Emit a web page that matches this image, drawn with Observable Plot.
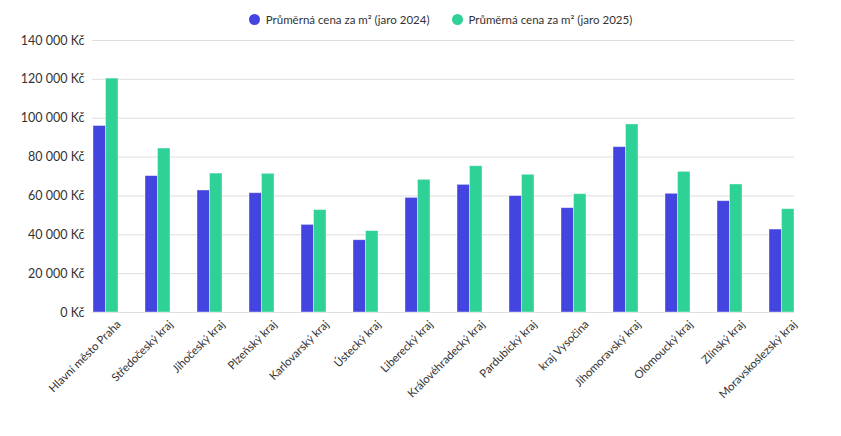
<!DOCTYPE html>
<html>
<head>
<meta charset="utf-8">
<script src="https://cdn.jsdelivr.net/npm/d3@7"></script>
<script src="https://cdn.jsdelivr.net/npm/@observablehq/plot@0.6"></script>
<style>
  body { margin: 0; background: #fff; font-family: Lato, "Open Sans", sans-serif; }
  #legend { height: 30px; display: flex; justify-content: center; align-items: flex-end; gap: 22px; font-size: 11.5px; color: #333; padding-left: 40px; box-sizing: border-box; padding-bottom: 4px; }
  #legend span.item { display: flex; align-items: center; gap: 6px; }
  #legend span.dot { width: 11px; height: 11px; border-radius: 50%; display: inline-block; }
</style>
</head>
<body>
<div id="legend"></div>
<div id="chart"></div>
<script>
const regions = ["Hlavní město Praha","Středočeský kraj","Jihočeský kraj","Plzeňský kraj","Karlovarský kraj","Ústecký kraj","Liberecký kraj","Královéhradecký kraj","Pardubický kraj","kraj Vysočina","Jihomoravský kraj","Olomoucký kraj","Zlínský kraj","Moravskoslezský kraj"];
const price2024 = [96000, 70200, 62800, 61400, 45100, 37200, 59000, 65700, 59900, 53700, 85100, 61100, 57300, 42700];
const price2025 = [120400, 84400, 71500, 71400, 52700, 41900, 68300, 75300, 70900, 60900, 96800, 72400, 65900, 53200];
const seriesNames = ["Průměrná cena za m² (jaro 2024)", "Průměrná cena za m² (jaro 2025)"];
const colors = ["#4444e0", "#2fd296"];
const yTicks = [0, 20000, 40000, 60000, 80000, 100000, 120000, 140000];

const legend = document.getElementById("legend");
seriesNames.forEach((n, i) => {
  const s = document.createElement("span");
  s.className = "item";
  s.innerHTML = `<span class="dot" style="background:${colors[i]}"></span>${n}`;
  legend.appendChild(s);
});

const data = regions.map((r, i) => ({region: r, v2024: price2024[i], v2025: price2025[i]}));
const fmt = v => d3.format(",")(v).replace(/,/g, " ") + " Kč";
const half = 12.5;

const chart = Plot.plot({
  width: 841,
  height: 406,
  marginTop: 10,
  marginBottom: 124,
  marginLeft: 92,
  marginRight: 47,
  style: {fontFamily: "Lato, 'Open Sans', sans-serif", color: "#333", background: "#fff"},
  x: {domain: regions, paddingInner: 0.52, paddingOuter: 0, label: null},
  y: {domain: [0, 140000], label: null},
  marks: [
    Plot.ruleY(yTicks, {stroke: "#dedede", strokeWidth: 1}),
    Plot.barY(data, {x: "region", y: "v2024", fill: colors[0], insetRight: half, stroke: "#fff", strokeOpacity: 0.5, strokeWidth: 0.8}),
    Plot.barY(data, {x: "region", y: "v2025", fill: colors[1], insetLeft: half, stroke: "#fff", strokeOpacity: 0.5, strokeWidth: 0.8}),
    Plot.axisY({ticks: yTicks, tickFormat: fmt, tickSize: 0, tickPadding: 8, fontSize: 12.5, fill: "#333", label: null}),
    Plot.axisX({tickSize: 0, tickRotate: -45, tickPadding: 10, dx: 13, fontSize: 11.3, fill: "#333", label: null})
  ]
});
document.getElementById("chart").appendChild(chart);
</script>
</body>
</html>
